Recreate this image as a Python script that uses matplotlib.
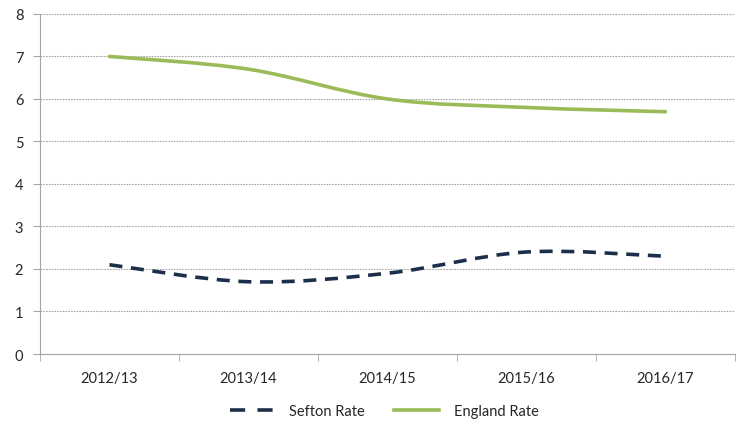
import matplotlib.pyplot as plt
import numpy as np
from matplotlib.path import Path
from matplotlib.patches import PathPatch
from matplotlib.lines import Line2D

years = ['2012/13', '2013/14', '2014/15', '2015/16', '2016/17']
sefton = [2.1, 1.7, 1.9, 2.4, 2.3]
england = [7.0, 6.7, 6.0, 5.8, 5.7]

plt.rcParams['font.family'] = ['Lato', 'DejaVu Sans']


# smoothed path through the points (like Excel's smoothed line)
def smooth_path(xs, ys):
    pts = np.column_stack([xs, ys]).astype(float)
    verts = [pts[0]]
    codes = [Path.MOVETO]
    n = len(pts)
    for i in range(n - 1):
        p0 = pts[i - 1] if i > 0 else pts[i]
        p1 = pts[i]
        p2 = pts[i + 1]
        p3 = pts[i + 2] if i + 2 < n else pts[i + 1]
        c1 = p1 + (p2 - p0) / 6.0
        c2 = p2 - (p3 - p1) / 6.0
        verts += [c1, c2, p2]
        codes += [Path.CURVE4] * 3
    return Path(verts, codes)


fig = plt.figure(figsize=(7.46, 4.27), dpi=100)
ax = fig.add_axes([0.0536, 0.1686, 0.9316, 0.7964])

x = np.arange(len(years))
ax.set_xlim(-0.5, len(years) - 0.5)
ax.set_ylim(0, 8)

navy = '#1b2f4b'
green = '#9bbb59'
dash = (0, (3.6, 2.4))

ax.add_patch(PathPatch(smooth_path(x, sefton), fill=False, edgecolor=navy,
                       lw=2.6, linestyle=dash, capstyle='butt'))
ax.add_patch(PathPatch(smooth_path(x, england), fill=False, edgecolor=green,
                       lw=2.6, capstyle='round'))

ax.set_yticks(range(0, 9))
ax.yaxis.grid(True, color='#a6a6a6', linestyle=(0, (1.5, 1)), lw=0.8)
ax.set_axisbelow(True)
ax.set_xticks(x)
ax.set_xticklabels(years)
ax.set_xticks(np.arange(-0.5, len(years)), minor=True)
ax.tick_params(axis='x', which='major', length=0, pad=12, labelsize=10.5, colors='#262626')
ax.tick_params(axis='x', which='minor', length=5, color='#a6a6a6')
ax.tick_params(axis='y', length=5, color='#a6a6a6', labelsize=10.5, labelcolor='#262626', pad=7)
for s in ['top', 'right']:
    ax.spines[s].set_visible(False)
for s in ['left', 'bottom']:
    ax.spines[s].set_color('#a6a6a6')

handles = [Line2D([], [], color=navy, lw=2.6, linestyle=(0, (4.2, 3.4))),
           Line2D([], [], color=green, lw=2.6)]
fig.legend(handles, ['Sefton Rate', 'England Rate'], loc='center', bbox_to_anchor=(0.515, 0.035),
           ncol=2, frameon=False, fontsize=10.5, handlelength=3.1, columnspacing=2.0,
           handletextpad=1.0, labelcolor='#262626')

fig.savefig('out.png', dpi=100)
